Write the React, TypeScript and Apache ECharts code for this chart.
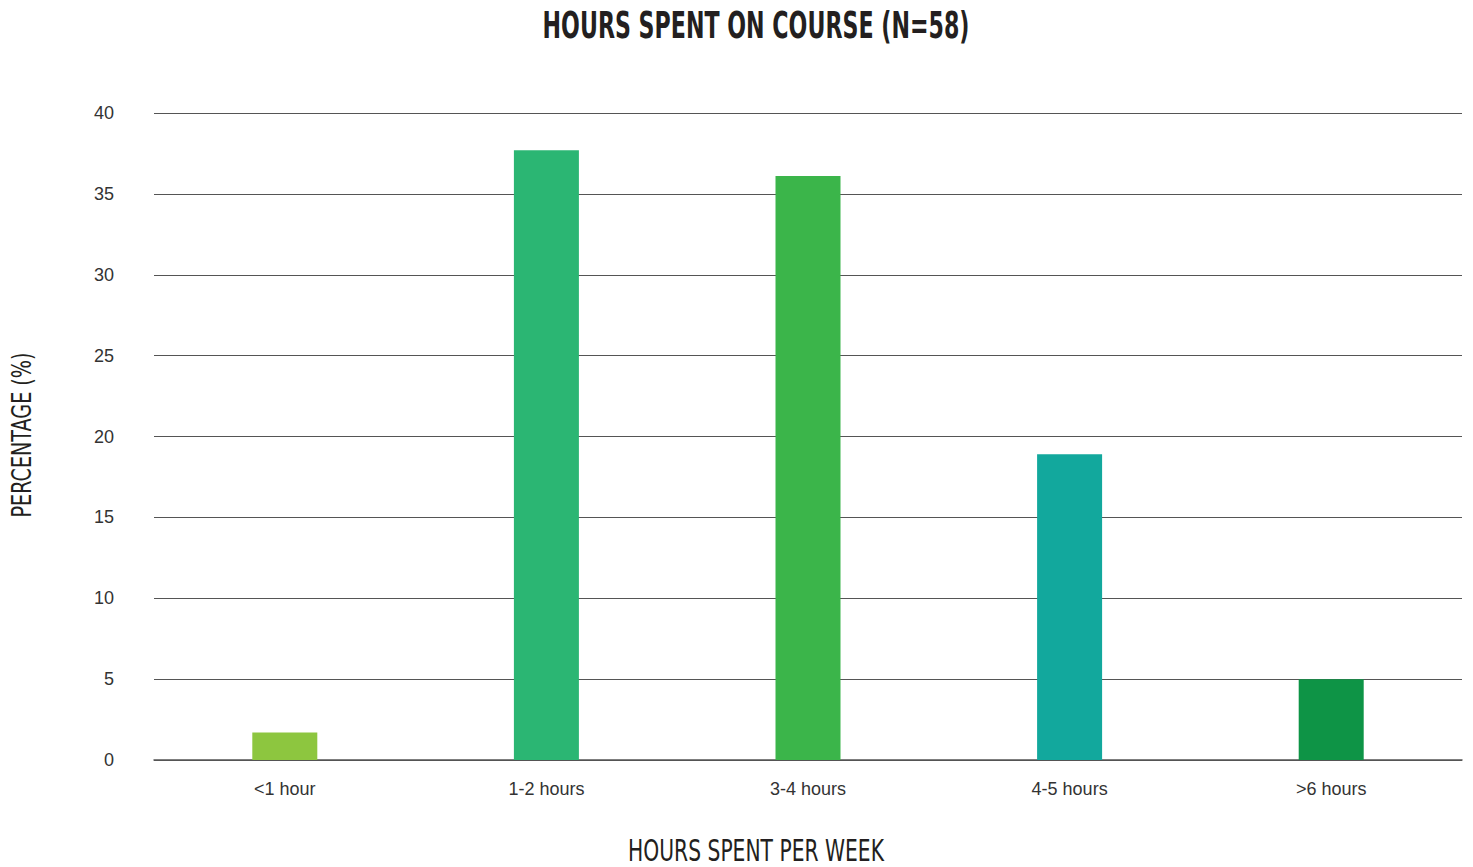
import React, { useEffect, useRef } from "react";
import * as echarts from "echarts";

const categories = ["<1 hour", "1-2 hours", "3-4 hours", "4-5 hours", ">6 hours"];
const values = [1.7, 37.7, 36.1, 18.9, 5.0];
const barColors = ["#8dc63f", "#2bb673", "#3bb54a", "#12a89d", "#0e9446"];
const titleText = "HOURS SPENT ON COURSE (N=58)";
const xAxisTitle = "HOURS SPENT PER WEEK";
const yAxisTitle = "PERCENTAGE (%)";

function measure(text: string, font: string): number {
  const c = document.createElement("canvas");
  const ctx = c.getContext("2d");
  if (!ctx) return 100;
  ctx.font = font;
  return ctx.measureText(text).width;
}

export default function App() {
  const ref = useRef<HTMLDivElement>(null);
  useEffect(() => {
    if (!ref.current) return;
    const chart = echarts.init(ref.current, null, { renderer: "svg" });
    const fam = "'DejaVu Sans'";
    const titleSize = 38;
    const titleW = measure(titleText, `bold ${titleSize}px ${fam}`);
    const axSize = 30;
    const xW = measure(xAxisTitle, `${axSize}px ${fam}`);
    const ySize = 27;
    const yW = measure(yAxisTitle, `${ySize}px ${fam}`);
    chart.setOption({
      animation: false,
      backgroundColor: "#ffffff",
      graphic: [
        {
          type: "text",
          x: 756,
          y: 25,
          scaleX: 427 / titleW,
          style: {
            text: titleText,
            fontFamily: fam,
            fontWeight: "bold",
            fontSize: titleSize,
            fill: "#231f20",
            align: "center",
            verticalAlign: "middle",
          },
        },
        {
          type: "text",
          x: 756,
          y: 850,
          scaleX: 256 / xW,
          style: {
            text: xAxisTitle,
            fontFamily: fam,
            fontSize: axSize,
            fill: "#231f20",
            align: "center",
            verticalAlign: "middle",
          },
        },
        {
          type: "text",
          x: 22,
          y: 435,
          rotation: Math.PI / 2,
          scaleX: 165 / yW,
          style: {
            text: yAxisTitle,
            fontFamily: fam,
            fontSize: ySize,
            fill: "#231f20",
            align: "center",
            verticalAlign: "middle",
          },
        },
      ],
      grid: { left: 154, right: 11, top: 113, bottom: 107, containLabel: false },
      xAxis: {
        type: "category",
        data: categories,
        axisLine: { show: true, lineStyle: { color: "#555555", width: 1.5 } },
        axisTick: { show: false },
        axisLabel: {
          fontFamily: "'Liberation Sans', Arial, sans-serif",
          fontSize: 18,
          color: "#333333",
          margin: 20,
        },
      },
      yAxis: {
        type: "value",
        min: 0,
        max: 40,
        interval: 5,
        axisLine: { show: false },
        axisTick: { show: false },
        axisLabel: {
          fontFamily: "'Liberation Sans', Arial, sans-serif",
          fontSize: 18,
          color: "#333333",
          margin: 40,
        },
        splitLine: { show: true, lineStyle: { color: "#555555", width: 1.2 } },
      },
      series: [
        {
          type: "bar",
          data: values.map((v, i) => ({ value: v, itemStyle: { color: barColors[i] } })),
          barWidth: 65,
        },
      ],
    });
    return () => chart.dispose();
  }, []);
  return (
    <div
      ref={ref}
      style={{ position: "fixed", left: 0, top: 0, width: 1473, height: 867 }}
    />
  );
}
